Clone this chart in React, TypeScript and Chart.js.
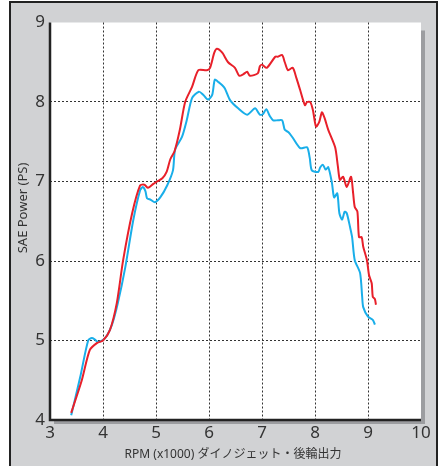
import React, { useEffect, useRef } from "react";
import { Chart, registerables } from "chart.js";

Chart.register(...registerables);

const rpmRed = [3.40, 3.60, 3.75, 3.89, 4.00, 4.13, 4.26, 4.38, 4.55, 4.70, 4.78, 4.85, 4.95, 5.02, 5.12, 5.20, 5.27, 5.35, 5.45, 5.55, 5.68, 5.80, 5.96, 6.02, 6.10, 6.15, 6.25, 6.36, 6.49, 6.57, 6.65, 6.72, 6.77, 6.92, 6.96, 7.00, 7.09, 7.25, 7.30, 7.38, 7.43, 7.49, 7.58, 7.65, 7.72, 7.81, 7.85, 7.91, 7.96, 8.02, 8.08, 8.13, 8.18, 8.25, 8.38, 8.43, 8.47, 8.53, 8.60, 8.68, 8.72, 8.75, 8.80, 8.83, 8.88, 8.91, 8.98, 9.02, 9.07, 9.09, 9.13, 9.15];
const psRed = [4.09, 4.50, 4.88, 4.97, 5.00, 5.13, 5.47, 6.01, 6.60, 6.95, 6.96, 6.92, 6.97, 7.00, 7.04, 7.12, 7.28, 7.38, 7.65, 8.00, 8.19, 8.40, 8.40, 8.43, 8.62, 8.67, 8.62, 8.50, 8.43, 8.33, 8.35, 8.38, 8.33, 8.36, 8.45, 8.47, 8.43, 8.57, 8.57, 8.59, 8.50, 8.40, 8.43, 8.30, 8.15, 7.96, 8.00, 8.00, 7.90, 7.69, 7.75, 7.87, 7.80, 7.65, 7.43, 7.20, 7.02, 7.06, 6.93, 7.06, 6.85, 6.68, 6.62, 6.30, 6.30, 6.18, 6.01, 5.82, 5.72, 5.55, 5.52, 5.45];

const rpmBlue = [3.40, 3.57, 3.72, 3.79, 3.85, 3.91, 4.04, 4.17, 4.28, 4.42, 4.57, 4.70, 4.75, 4.80, 4.83, 4.90, 4.98, 5.08, 5.21, 5.32, 5.36, 5.49, 5.58, 5.68, 5.81, 5.89, 5.98, 6.06, 6.11, 6.18, 6.25, 6.30, 6.40, 6.55, 6.72, 6.87, 6.96, 7.02, 7.08, 7.15, 7.21, 7.30, 7.38, 7.43, 7.50, 7.57, 7.72, 7.85, 7.90, 7.94, 8.06, 8.10, 8.15, 8.20, 8.25, 8.32, 8.36, 8.42, 8.46, 8.51, 8.56, 8.60, 8.66, 8.70, 8.75, 8.85, 8.89, 8.91, 9.00, 9.09, 9.13];
const psBlue = [4.06, 4.54, 5.00, 5.03, 5.01, 4.98, 5.03, 5.20, 5.47, 5.92, 6.51, 6.89, 6.93, 6.88, 6.79, 6.77, 6.74, 6.80, 6.95, 7.14, 7.40, 7.56, 7.77, 8.05, 8.13, 8.09, 8.03, 8.09, 8.28, 8.25, 8.21, 8.17, 8.02, 7.92, 7.84, 7.92, 7.84, 7.85, 7.91, 7.82, 7.77, 7.77, 7.77, 7.65, 7.62, 7.56, 7.42, 7.43, 7.30, 7.14, 7.12, 7.18, 7.21, 7.15, 7.18, 6.98, 6.80, 6.85, 6.60, 6.52, 6.62, 6.60, 6.43, 6.30, 6.01, 5.85, 5.55, 5.42, 5.30, 5.26, 5.20];

const xTitle = "RPM (x1000) ダイノジェット・後輪出力";
const yTitle = "SAE Power (PS)";
const xMin = 3, xMax = 10, yMin = 4, yMax = 9;

const FONT = "'Noto Sans', 'Noto Sans CJK JP', sans-serif";

const framePlugin = {
  id: "frame",
  beforeDraw(chart: any) {
    const { ctx, chartArea: a, width, height } = chart;
    ctx.save();
    ctx.fillStyle = "#ffffff";
    ctx.fillRect(0, 0, width, height);
    ctx.fillStyle = "#d1d2d4";
    ctx.fillRect(10, 2, 427, height);
    ctx.strokeStyle = "#222222";
    ctx.lineWidth = 2;
    ctx.strokeRect(10, 2, 427, height + 10);
    ctx.fillStyle = "#9c9da0";
    ctx.fillRect(a.left + 4, a.top + 8, a.right - a.left, a.bottom - a.top - 4);
    ctx.fillStyle = "#ffffff";
    ctx.fillRect(a.left, a.top, a.right - a.left, a.bottom - a.top);
    ctx.restore();
  },
  afterDraw(chart: any) {
    const { ctx, chartArea: a } = chart;
    ctx.save();
    ctx.strokeStyle = "#222222";
    ctx.lineWidth = 2.5;
    ctx.beginPath();
    ctx.moveTo(a.left, a.top);
    ctx.lineTo(a.left, a.bottom);
    ctx.lineTo(a.right, a.bottom);
    ctx.stroke();
    ctx.fillStyle = "#333333";
    ctx.font = `12px ${FONT}`;
    ctx.textAlign = "center";
    ctx.textBaseline = "middle";
    ctx.fillText(xTitle, 233, 455);
    ctx.font = `13px ${FONT}`;
    ctx.translate(23, 208);
    ctx.rotate(-Math.PI / 2);
    ctx.fillText(yTitle, 0, 0);
    ctx.restore();
  },
};

export default function App() {
  const ref = useRef<HTMLCanvasElement | null>(null);
  useEffect(() => {
    if (!ref.current) return;
    const gridColor = (edgeA: number, edgeB: number) => (c: any) =>
      c.tick && (c.tick.value === edgeA || c.tick.value === edgeB) ? "rgba(0,0,0,0)" : "#333333";
    const chart = new Chart(ref.current, {
      type: "line",
      data: {
        datasets: [
          {
            label: "red",
            data: rpmRed.map((x, i) => ({ x, y: psRed[i] })),
            borderColor: "#e8202a",
            borderWidth: 2,
            pointRadius: 0,
            tension: 0.25,
            fill: false,
          },
          {
            label: "blue",
            data: rpmBlue.map((x, i) => ({ x, y: psBlue[i] })),
            borderColor: "#19aee9",
            borderWidth: 2,
            pointRadius: 0,
            tension: 0.25,
            fill: false,
          },
        ],
      },
      options: {
        animation: false,
        responsive: false,
        maintainAspectRatio: false,
        layout: { padding: { top: 22.5, right: 26, left: 0, bottom: 0 } },
        plugins: { legend: { display: false }, tooltip: { enabled: false } },
        scales: {
          x: {
            type: "linear",
            min: xMin,
            max: xMax,
            ticks: { stepSize: 1, color: "#333333", font: { size: 17, family: FONT }, padding: 3, maxRotation: 0 },
            grid: { color: gridColor(xMin, xMax), lineWidth: 1, drawTicks: false },
            border: { display: false, dash: [2, 2] },
            afterFit(s: any) {
              s.height = 46;
              s.paddingLeft = 0;
              s.paddingRight = 0;
            },
          },
          y: {
            type: "linear",
            min: yMin,
            max: yMax,
            ticks: { stepSize: 1, color: "#333333", font: { size: 17, family: FONT }, padding: 5 },
            grid: { color: gridColor(yMin, yMax), lineWidth: 1, drawTicks: false },
            border: { display: false, dash: [2, 2] },
            afterFit(s: any) {
              s.width = 50;
              s.paddingTop = 0;
              s.paddingBottom = 0;
            },
          },
        },
      },
      plugins: [framePlugin],
    });
    return () => chart.destroy();
  }, []);
  return (
    <div style={{ position: "fixed", left: 0, top: 0, width: 447, height: 466 }}>
      <canvas ref={ref} width={447} height={466} style={{ width: 447, height: 466 }} />
    </div>
  );
}
